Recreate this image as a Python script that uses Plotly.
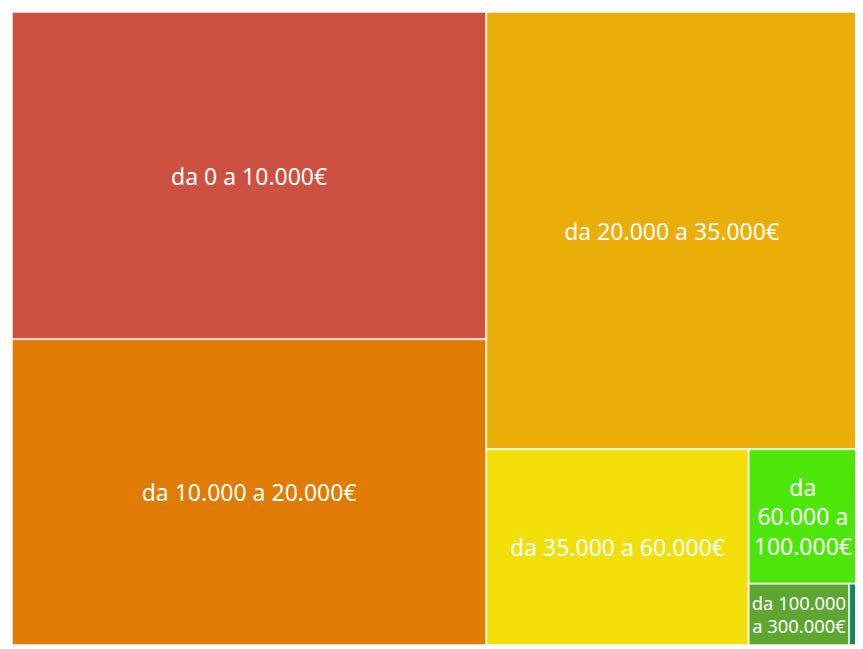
import plotly.graph_objects as go

labels = ["da 0 a 10.000€", "da 10.000 a 20.000€", "da 20.000 a 35.000€",
          "da 35.000 a 60.000€", "da 60.000 a 100.000€", "da 100.000 a 300.000€",
          "oltre 300.000€"]
display_text = ["da 0 a 10.000€", "da 10.000 a 20.000€", "da 20.000 a 35.000€",
                "da 35.000 a 60.000€", "da<br>60.000 a<br>100.000€", "da 100.000<br>a 300.000€",
                ""]
values = [29.0, 27.1, 30.3, 9.6, 2.72, 1.15, 0.09]
colors = ["#CD5140", "#E07B03", "#EBAD08", "#F2DF0A", "#4DE60A", "#5EA632", "#12855A"]

fig = go.Figure(go.Treemap(
    labels=labels,
    parents=[""] * len(labels),
    values=values,
    text=display_text,
    textinfo="text",
    textposition="middle center",
    sort=False,
    tiling=dict(packing="squarify", squarifyratio=1, pad=0),
    marker=dict(colors=colors, line=dict(color="rgba(255,255,255,0.7)", width=2),
                pad=dict(t=0, l=0, r=0, b=0)),
    textfont=dict(family="Noto Sans", size=23, color="white"),
    pathbar=dict(visible=False),
    hoverinfo="label+value",
    domain=dict(x=[0, 1], y=[0, 1]),
))
fig.update_layout(
    width=863, height=649,
    margin=dict(l=4, r=14, t=4, b=12),
    paper_bgcolor="white",
)
fig.write_html("out.html")
